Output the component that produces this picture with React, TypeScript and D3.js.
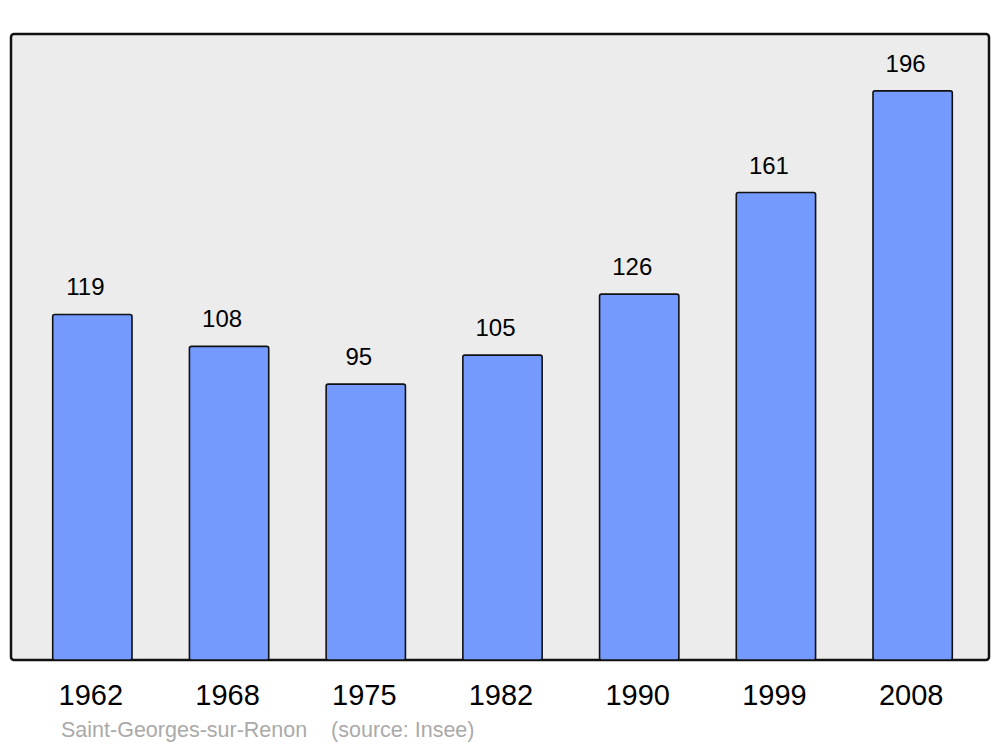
import React from "react";
import * as d3 from "d3";

const years = ["1962", "1968", "1975", "1982", "1990", "1999", "2008"];
const population = [119, 108, 95, 105, 126, 161, 196];
const sourceLabel = "Saint-Georges-sur-Renon    (source: Insee)";

const W = 1000;
const H = 747;
const frame = { x0: 11, y0: 34, x1: 989, y1: 660 };

export default function App() {
  const x = d3.scaleBand<string>().domain(years).range([24, 981]).padding(0);
  const y = d3
    .scaleLinear()
    .domain([0, d3.max(population)! * 1.1])
    .range([frame.y1, frame.y0]);
  const bw = x.bandwidth() * 0.58;
  const font = "Liberation Sans, Arial, sans-serif";

  return (
    <svg
      width={W}
      height={H}
      style={{ position: "absolute", left: 0, top: 0 }}
      fontFamily={font}
    >
      <rect width={W} height={H} fill="#ffffff" />
      <rect
        x={frame.x0}
        y={frame.y0}
        width={frame.x1 - frame.x0}
        height={frame.y1 - frame.y0}
        rx={3}
        fill="#ececec"
        stroke="#111"
        strokeWidth={2.5}
      />
      {years.map((yr, i) => {
        const cx = x(yr)! + x.bandwidth() / 2;
        const v = population[i];
        return (
          <g key={yr}>
            <rect
              x={cx - bw / 2}
              y={y(v)}
              width={bw}
              height={frame.y1 - y(v)}
              rx={2}
              fill="#7499ff"
              stroke="#111"
              strokeWidth={1.6}
            />
            <text
              x={cx - 7}
              y={y(v) - 19}
              textAnchor="middle"
              fontSize={24}
              fill="#000"
            >
              {v}
            </text>
            <text
              x={cx - 1.5}
              y={705}
              textAnchor="middle"
              fontSize={29}
              fill="#000"
            >
              {yr}
            </text>
          </g>
        );
      })}
      <text
        x={61}
        y={737}
        fontSize={21.5}
        fill="#aaaaaa"
        style={{ whiteSpace: "pre" }}
      >
        {sourceLabel}
      </text>
    </svg>
  );
}
